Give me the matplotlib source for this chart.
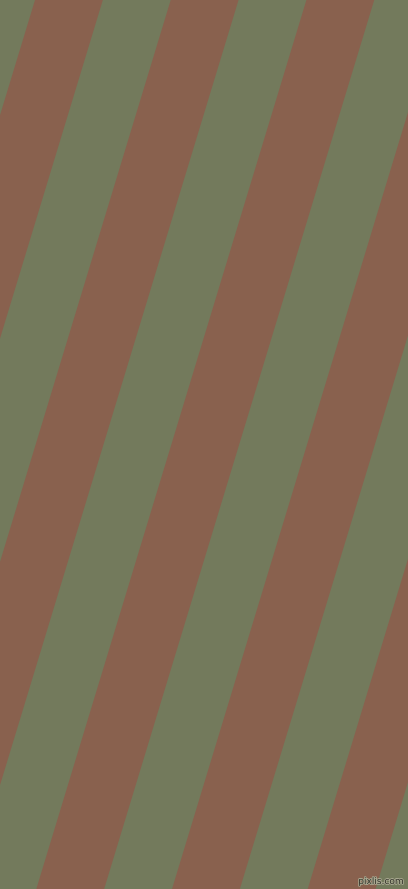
import math

import matplotlib
matplotlib.use('Agg')
import matplotlib.pyplot as plt
import matplotlib.patheffects as pe

# picture size in pixels
width_px = 408
height_px = 889

# stripe pattern
background_color = '#737a5c'   # green
stripe_color = '#89614e'       # brown
stripe_angle = 73.1            # degrees from horizontal
stripe_width = 67.85           # horizontal width of one stripe
first_edge = 35.0              # left edge of a brown stripe at the top

watermark = 'pixlis.com'


def main():
    fig = plt.figure(figsize=(width_px / 100, height_px / 100), dpi=100,
                     facecolor=background_color)
    ax = fig.add_axes([0, 0, 1, 1])
    ax.set_facecolor(background_color)
    ax.set_xlim(0, width_px)
    ax.set_ylim(height_px, 0)
    ax.set_xticks([])
    ax.set_yticks([])
    for s in ax.spines.values():
        s.set_visible(False)

    # brown stripes over a green ground
    shift = height_px / math.tan(math.radians(stripe_angle))
    period = 2 * stripe_width
    k_min = int(math.floor((0 - first_edge) / period)) - 1
    k_max = int(math.ceil((width_px + shift - first_edge) / period)) + 1
    for k in range(k_min, k_max):
        a = first_edge + k * period
        xs = [a, a + stripe_width, a + stripe_width - shift, a - shift]
        ys = [0, 0, height_px, height_px]
        ax.fill(xs, ys, color=stripe_color, lw=0)

    ax.text(404, 886, watermark, fontsize=6.5, color='#33332a',
            ha='right', va='bottom', family='DejaVu Sans',
            path_effects=[pe.withStroke(linewidth=1.2, foreground='#a8a890')])

    fig.savefig('out.png', dpi=100, facecolor=background_color)


if __name__ == '__main__':
    main()
